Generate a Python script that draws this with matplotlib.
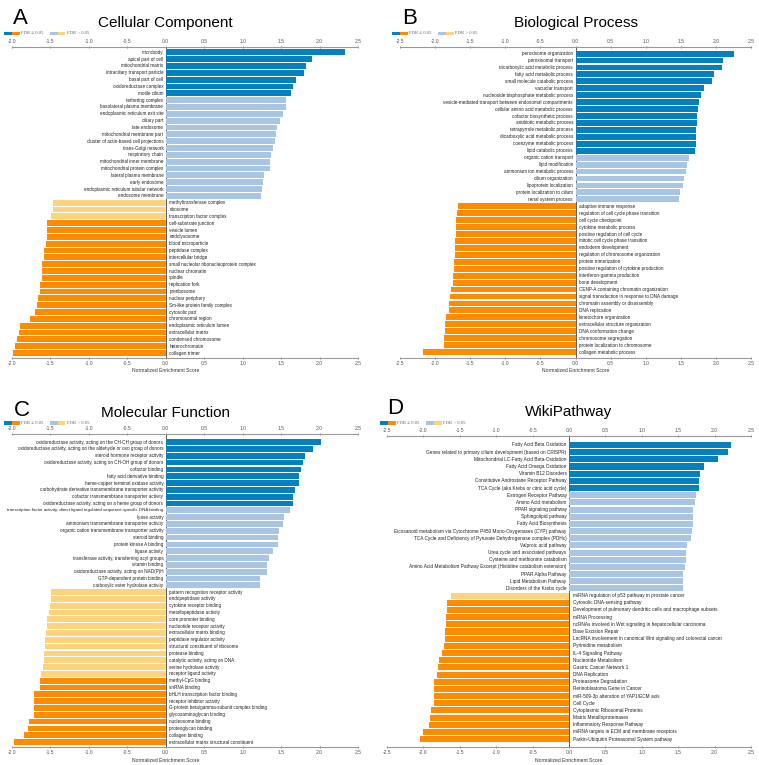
import numpy as np
import matplotlib
matplotlib.use('Agg')
import matplotlib.pyplot as plt
import matplotlib.transforms as mtransforms
from matplotlib.patches import Rectangle

plt.rcParams['font.family'] = ['Liberation Sans', 'DejaVu Sans']

W, H = 759, 765

# colours: [positive FDR<=0.05, positive FDR>0.05, negative FDR>0.05, negative FDR<=0.05]
DARK_BLUE = '#0580BE'
LIGHT_BLUE = '#A8C5E3'
LIGHT_ORANGE = '#FFD27E'
DARK_ORANGE = '#FF8C00'

# ---------------- A: Cellular Component ----------------
a_terms = [
    'microbody', 'apical part of cell', 'mitochondrial matrix',
    'intraciliary transport particle', 'basal part of cell', 'oxidoreductase complex',
    'motile cilium', 'tethering complex', 'basolateral plasma membrane',
    'endoplasmic reticulum exit site', 'ciliary part', 'late endosome',
    'mitochondrial membrane part', 'cluster of actin-based cell projections',
    'trans-Golgi network', 'respiratory chain', 'mitochondrial inner membrane',
    'mitochondrial protein complex', 'lateral plasma membrane', 'early endosome',
    'endoplasmic reticulum tubular network', 'endosome membrane',
    'methyltransferase complex', 'ribosome', 'transcription factor complex',
    'cell-substrate junction', 'vesicle lumen', 'endolysosome', 'blood microparticle',
    'peptidase complex', 'intercellular bridge', 'small nucleolar ribonucleoprotein complex',
    'nuclear chromatin', 'spindle', 'replication fork', 'preribosome', 'nuclear periphery',
    'Sm-like protein family complex', 'cytosolic part', 'chromosomal region',
    'endoplasmic reticulum lumen', 'extracellular matrix', 'condensed chromosome',
    'heterochromatin', 'collagen trimer']
a_nes = [2.33, 1.90, 1.83, 1.80, 1.70, 1.66, 1.63, 1.57, 1.56, 1.53, 1.48, 1.45,
         1.44, 1.42, 1.39, 1.37, 1.36, 1.35, 1.28, 1.26, 1.25, 1.24,
         -1.47, -1.47, -1.49, -1.54, -1.55, -1.55, -1.56, -1.58, -1.58, -1.61,
         -1.61, -1.61, -1.63, -1.63, -1.66, -1.68, -1.70, -1.77, -1.89, -1.91,
         -1.94, -1.96, -1.99]
a_sig = [1] * 7 + [0] * 15 + [0] * 3 + [1] * 20

# ---------------- B: Biological Process ----------------
b_terms = [
    'peroxisome organization', 'peroxisomal transport', 'tricarboxylic acid metabolic process',
    'fatty acid metabolic process', 'small molecule catabolic process', 'vacuolar transport',
    'nucleoside bisphosphate metabolic process',
    'vesicle-mediated transport between endosomal compartments',
    'cellular amino acid metabolic process', 'cofactor biosynthetic process',
    'antibiotic metabolic process', 'tetrapyrrole metabolic process',
    'dicarboxylic acid metabolic process', 'coenzyme metabolic process',
    'lipid catabolic process', 'organic cation transport', 'lipid modification',
    'ammonium ion metabolic process', 'cilium organization', 'lipoprotein localization',
    'protein localization to cilium', 'renal system process',
    'adaptive immune response', 'regulation of cell cycle phase transition',
    'cell cycle checkpoint', 'cytokine metabolic process', 'positive regulation of cell cycle',
    'mitotic cell cycle phase transition', 'endoderm development',
    'regulation of chromosome organization', 'protein trimerization',
    'positive regulation of cytokine production', 'interferon-gamma production',
    'bone development', 'CENP-A containing chromatin organization',
    'signal transduction in response to DNA damage', 'chromatin assembly or disassembly',
    'DNA replication', 'kinetochore organization', 'extracellular structure organization',
    'DNA conformation change', 'chromosome segregation', 'protein localization to chromosome',
    'collagen metabolic process']
b_nes = [2.26, 2.10, 2.09, 1.97, 1.94, 1.83, 1.79, 1.76, 1.75, 1.73, 1.73, 1.72,
         1.71, 1.71, 1.70, 1.61, 1.59, 1.57, 1.54, 1.53, 1.49, 1.47,
         -1.67, -1.69, -1.70, -1.70, -1.70, -1.71, -1.72, -1.72, -1.73, -1.73,
         -1.74, -1.75, -1.77, -1.79, -1.80, -1.80, -1.85, -1.86, -1.86, -1.88,
         -1.88, -2.17]
b_sig = [1] * 15 + [0] * 7 + [1] * 22

# ---------------- C: Molecular Function ----------------
c_terms = [
    'oxidoreductase activity, acting on the CH-CH group of donors',
    'oxidoreductase activity, acting on the aldehyde or oxo group of donors',
    'steroid hormone receptor activity',
    'oxidoreductase activity, acting on CH-OH group of donors', 'cofactor binding',
    'fatty acid derivative binding', 'heme-copper terminal oxidase activity',
    'carbohydrate derivative transmembrane transporter activity',
    'cofactor transmembrane transporter activity',
    'oxidoreductase activity, acting on a heme group of donors',
    'transcription factor activity, direct ligand regulated sequence-specific DNA binding',
    'lyase activity', 'ammonium transmembrane transporter activity',
    'organic cation transmembrane transporter activity', 'steroid binding',
    'protein kinase A binding', 'ligase activity',
    'transferase activity, transferring acyl groups', 'vitamin binding',
    'oxidoreductase activity, acting on NAD(P)H', 'GTP-dependent protein binding',
    'carboxylic ester hydrolase activity',
    'pattern recognition receptor activity', 'endopeptidase activity',
    'cytokine receptor binding', 'metallopeptidase activity', 'core promoter binding',
    'nucleotide receptor activity', 'extracellular matrix binding',
    'peptidase regulator activity', 'structural constituent of ribosome',
    'protease binding', 'catalytic activity, acting on DNA', 'serine hydrolase activity',
    'receptor ligand activity', 'methyl-CpG binding', 'snRNA binding',
    'bHLH transcription factor binding', 'receptor inhibitor activity',
    'G-protein beta/gamma-subunit complex binding', 'glycosaminoglycan binding',
    'nucleosome binding', 'proteoglycan binding', 'collagen binding',
    'extracellular matrix structural constituent']
c_nes = [2.02, 1.92, 1.81, 1.79, 1.76, 1.73, 1.73, 1.68, 1.66, 1.66,
         1.61, 1.54, 1.52, 1.47, 1.46, 1.46, 1.40, 1.34, 1.31, 1.31, 1.22, 1.22,
         -1.49, -1.49, -1.50, -1.52, -1.54, -1.55, -1.56, -1.57, -1.57, -1.58,
         -1.58, -1.60, -1.62, -1.64, -1.64, -1.71, -1.71, -1.71, -1.72, -1.78,
         -1.79, -1.85, -1.97]
c_sig = [1] * 10 + [0] * 12 + [0] * 13 + [1] * 10

# ---------------- D: WikiPathway ----------------
d_terms = [
    'Fatty Acid Beta Oxidation',
    'Genes related to primary cilium development (based on CRISPR)',
    'Mitochondrial LC-Fatty Acid Beta-Oxidation', 'Fatty Acid Omega Oxidation',
    'Vitamin B12 Disorders', 'Constitutive Androstane Receptor Pathway',
    'TCA Cycle (aka Krebs or citric acid cycle)', 'Estrogen Receptor Pathway',
    'Amino Acid metabolism', 'PPAR signaling pathway', 'Sphingolipid pathway',
    'Fatty Acid Biosynthesis',
    'Eicosanoid metabolism via Cytochrome P450 Mono-Oxygenases (CYP) pathway',
    'TCA Cycle and Deficiency of Pyruvate Dehydrogenase complex (PDHc)',
    'Valproic acid pathway', 'Urea cycle and associated pathways',
    'Cysteine and methionine catabolism',
    'Amino Acid Metabolism Pathway Excerpt (Histidine catabolism extension)',
    'PPAR Alpha Pathway', 'Lipid Metabolism Pathway', 'Disorders of the Krebs cycle',
    'miRNA regulation of p53 pathway in prostate cancer', 'Cytosolic DNA-sensing pathway',
    'Development of pulmonary dendritic cells and macrophage subsets', 'mRNA Processing',
    'ncRNAs involved in Wnt signaling in hepatocellular carcinoma', 'Base Excision Repair',
    'LncRNA involvement in canonical Wnt signaling and colorectal cancer',
    'Pyrimidine metabolism', 'IL-4 Signaling Pathway', 'Nucleotide Metabolism',
    'Gastric Cancer Network 1', 'DNA Replication', 'Proteasome Degradation',
    'Retinoblastoma Gene in Cancer', 'miR-509-3p alteration of YAP1/ECM axis', 'Cell Cycle',
    'Cytoplasmic Ribosomal Proteins', 'Matrix Metalloproteinases',
    'Inflammatory Response Pathway', 'miRNA targets in ECM and membrane receptors',
    'Parkin-Ubiquitin Proteasomal System pathway']
d_nes = [2.22, 2.19, 2.05, 1.85, 1.80, 1.79, 1.78, 1.75, 1.73, 1.71, 1.70, 1.70,
         1.69, 1.68, 1.62, 1.61, 1.61, 1.60, 1.57, 1.56, 1.56,
         -1.62, -1.67, -1.68, -1.69, -1.69, -1.70, -1.71, -1.72, -1.74, -1.79,
         -1.80, -1.81, -1.85, -1.85, -1.85, -1.86, -1.90, -1.91, -1.92, -2.01, -2.05]
d_sig = [1] * 7 + [0] * 14 + [0] * 1 + [1] * 20


fig = plt.figure(figsize=(W / 100, H / 100), dpi=100)
all_labels = []


def fx(px):
    return px / W


def fy(py):
    return 1 - py / H


def panel(letter, title, terms, nes, sig, xlim, box, pads, letter_pos, title_y,
          legend_pos, xlabel_y, label_size):
    left, right, top, bottom = box
    ax = fig.add_axes([fx(left), fy(bottom), (right - left) / W, (bottom - top) / H])
    ax.patch.set_alpha(0)
    nes = np.array(nes)
    sig = np.array(sig, dtype=bool)
    y = np.arange(len(terms))
    colors = []
    for v, s in zip(nes, sig):
        if v > 0:
            colors.append(DARK_BLUE if s else LIGHT_BLUE)
        else:
            colors.append(DARK_ORANGE if s else LIGHT_ORANGE)
    ax.barh(y, nes, height=0.84, color=colors, zorder=2)
    ax.axvline(0, color='#444444', lw=0.6, zorder=1)

    for yi, t, v in zip(y, terms, nes):
        if v > 0:
            lab = ax.annotate(t, (0, yi), xytext=(-2.5, 0), textcoords='offset pixels',
                              ha='right', va='center', fontsize=label_size, color='#222222')
        else:
            lab = ax.annotate(t, (0, yi), xytext=(3.5, 0), textcoords='offset pixels',
                              ha='left', va='center', fontsize=label_size, color='#222222')
        all_labels.append(lab)

    ax.set_xlim(xlim)
    ax.set_ylim(len(terms) - 1 + pads[1], -pads[0])
    ax.set_yticks([])
    ticks = np.arange(xlim[0], xlim[1] + 0.01, 0.5)
    ax.set_xticks(ticks)
    ax.set_xticklabels(['%.1f' % t for t in ticks])
    ax.tick_params(axis='x', top=True, labeltop=True, bottom=True, labelbottom=True,
                   labelsize=3.6, colors='#555555', length=2, width=0.5, pad=1.5,
                   direction='inout')
    for s in ['left', 'right']:
        ax.spines[s].set_visible(False)
    for s in ['top', 'bottom']:
        ax.spines[s].set_color('#999999')
        ax.spines[s].set_linewidth(0.8)

    trans = mtransforms.blended_transform_factory(ax.transData, fig.transFigure)
    ax.text(0, fy(title_y), title, transform=trans, ha='center', va='baseline',
            fontsize=11)
    ax.text(0, fy(xlabel_y), 'Normalized Enrichment Score', transform=trans,
            ha='center', va='center', fontsize=3.6, color='#333333')
    fig.text(fx(letter_pos[0]), fy(letter_pos[1]), letter, ha='left', va='baseline',
             fontsize=16)

    # legend: two swatch pairs with labels
    lx, ly = legend_pos
    for dx, c in [(0, DARK_BLUE), (8, DARK_ORANGE), (46, LIGHT_BLUE), (54, LIGHT_ORANGE)]:
        fig.add_artist(Rectangle((fx(lx + dx), fy(ly + 1.8)), 7.5 / W, 3.6 / H,
                                 transform=fig.transFigure, color=c, lw=0))
    fig.text(fx(lx + 17), fy(ly), 'FDR \u2264 0.05', fontsize=3.4, va='center',
             color='#666666', family=['Liberation Serif', 'DejaVu Serif'])
    fig.text(fx(lx + 63), fy(ly), 'FDR > 0.05', fontsize=3.4, va='center',
             color='#666666', family=['Liberation Serif', 'DejaVu Serif'])
    return ax


panel('A', 'Cellular Component', a_terms, a_nes, a_sig, (-2.0, 2.5),
      (12, 358, 47, 358), (0.78, 0.73), (13, 24), 27, (4, 33.5), 370, 3.3)
panel('B', 'Biological Process', b_terms, b_nes, b_sig, (-2.5, 2.5),
      (400, 751, 47, 358), (0.95, 0.86), (402, 24), 27, (392, 33.5), 370, 3.3)
panel('C', 'Molecular Function', c_terms, c_nes, c_sig, (-2.0, 2.5),
      (12, 358, 434, 747), (1.2, 0.73), (14, 416), 417, (4, 423), 760, 3.3)
panel('D', 'WikiPathway', d_terms, d_nes, d_sig, (-2.5, 2.5),
      (387, 751, 436, 747), (1.25, 1.1), (387, 414), 416, (380, 423), 760, 3.4)

# shrink any label that would run past the left edge of the figure
renderer = fig.canvas.get_renderer()
for lab in all_labels:
    while lab.get_window_extent(renderer).x0 < 1 and lab.get_fontsize() > 2:
        lab.set_fontsize(lab.get_fontsize() - 0.05)

fig.savefig('out.png', dpi=100)
